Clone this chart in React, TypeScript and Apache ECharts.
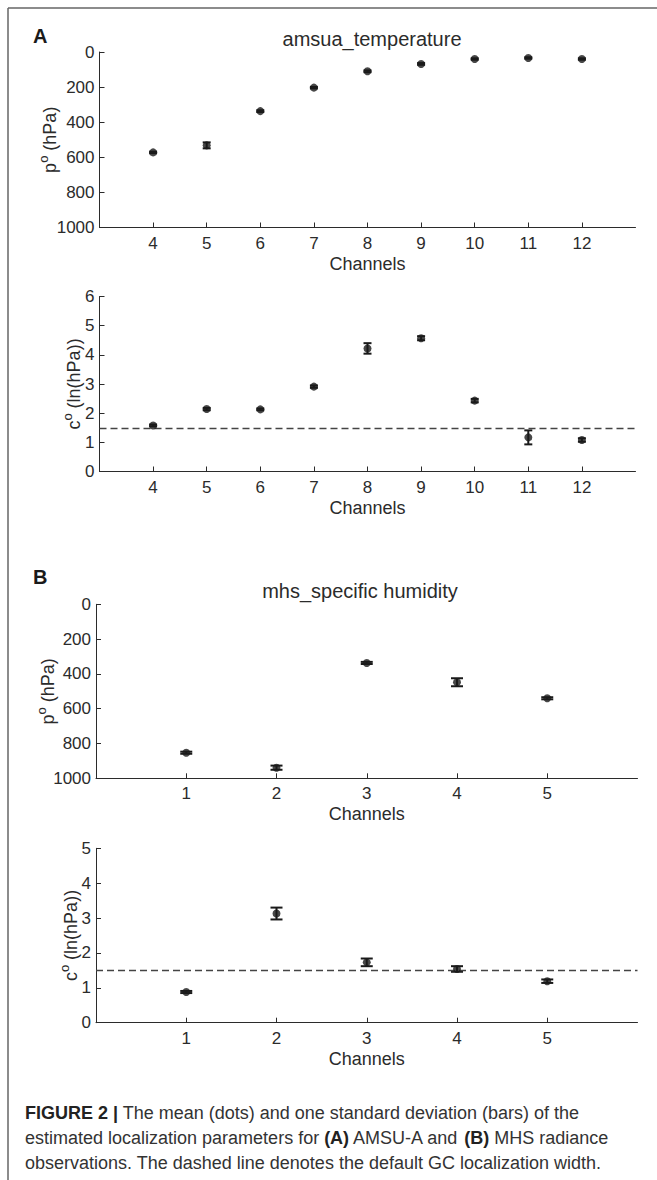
import React, { useEffect, useRef } from "react";
import * as echarts from "echarts";

// ---- Data ----
const channelsA = [4, 5, 6, 7, 8, 9, 10, 11, 12];
const pA = [572, 532, 337, 203, 110, 68, 40, 34, 40];
const pAErr = [4, 17, 5, 4, 5, 5, 4, 4, 4];
const cA = [1.58, 2.14, 2.13, 2.91, 4.22, 4.57, 2.43, 1.17, 1.08];
const cAErr = [0.03, 0.04, 0.03, 0.04, 0.18, 0.07, 0.06, 0.24, 0.06];

const channelsB = [1, 2, 3, 4, 5];
const pB = [853, 939, 337, 448, 540];
const pBErr = [6, 12, 6, 23, 6];
const cB = [0.88, 3.13, 1.73, 1.54, 1.19];
const cBErr = [0.03, 0.17, 0.11, 0.08, 0.05];

const defaultWidth = 1.5;

const titleA = "amsua_temperature";
const titleB = "mhs_specific humidity";
const xName = "Channels";
const captionLines = [
  "{b|FIGURE 2 |} The mean (dots) and one standard deviation (bars) of the",
  "estimated localization parameters for {b|(A)} AMSU-A and {b|(B)} MHS radiance",
  "observations. The dashed line denotes the default GC localization width.",
];

const FONT = "'Liberation Sans', Arial, Helvetica, sans-serif";
const AX = "#2b2b2b";
const DOT = "#1a1a1a";

function errRender(capHalf: number) {
  return (params: any, api: any) => {
    const x = api.value(0);
    const y = api.value(1);
    const e = api.value(2);
    const lo = api.coord([x, y - e]);
    const hi = api.coord([x, y + e]);
    const st = { stroke: DOT, lineWidth: 2 };
    return {
      type: "group",
      children: [
        { type: "line", shape: { x1: lo[0], y1: lo[1], x2: hi[0], y2: hi[1] }, style: st },
        { type: "line", shape: { x1: lo[0] - capHalf, y1: lo[1], x2: lo[0] + capHalf, y2: lo[1] }, style: st },
        { type: "line", shape: { x1: hi[0] - capHalf, y1: hi[1], x2: hi[0] + capHalf, y2: hi[1] }, style: st },
      ],
    };
  };
}

export default function App() {
  const ref = useRef<HTMLDivElement>(null);
  useEffect(() => {
    document.body.style.margin = "0";
    const chart = echarts.init(ref.current!, null, { renderer: "svg" });

    const grids = [
      { left: 99.5, top: 52, width: 536, height: 175.5 },
      { left: 99.5, top: 296.5, width: 536, height: 175 },
      { left: 96, top: 604.3, width: 541.5, height: 174 },
      { left: 96, top: 848.3, width: 541.5, height: 174.4 },
    ];

    const axisLine = { show: true, onZero: false, lineStyle: { color: AX, width: 1 } };
    const axisTick = { show: true, inside: true, length: 5, lineStyle: { color: AX, width: 1 } };
    const label = { color: AX, fontSize: 17, fontFamily: FONT };

    const mkX = (gi: number, min: number, max: number, ticks: number[]) => ({
      type: "value",
      gridIndex: gi,
      position: "bottom",
      min,
      max,
      interval: 1,
      name: xName,
      nameLocation: "middle",
      nameGap: 27,
      nameMoveOverlap: false,
      nameTextStyle: { color: AX, fontSize: 18, fontFamily: FONT },
      axisLine,
      axisTick: { ...axisTick, customValues: ticks },
      axisLabel: { ...label, margin: 7, customValues: ticks },
      splitLine: { show: false },
    });

    const supName = (base: string, rest: string) => `{n|${base}}{s|o}{n| ${rest}}`;
    const nameRich = {
      n: { fontSize: 18, fontFamily: FONT, color: AX, verticalAlign: "bottom", lineHeight: 22 },
      s: { fontSize: 13, fontFamily: FONT, color: AX, verticalAlign: "bottom", lineHeight: 13, padding: [0, 0, 9, 0] },
    };

    const mkY = (gi: number, min: number, max: number, interval: number, inverse: boolean, name: string, gap: number) => ({
      type: "value",
      gridIndex: gi,
      position: "left",
      min,
      max,
      interval,
      inverse,
      name,
      nameLocation: "middle",
      nameRotate: 90,
      nameGap: gap,
      nameMoveOverlap: false,
      nameTextStyle: { rich: nameRich, color: AX, fontSize: 18, fontFamily: FONT },
      axisLine,
      axisTick,
      axisLabel: { ...label, margin: 5, formatter: (v: number) => String(v) },
      splitLine: { show: false },
    });

    const scatter = (gi: number, xs: number[], ys: number[]) => ({
      type: "scatter",
      xAxisIndex: gi,
      yAxisIndex: gi,
      symbol: "circle",
      symbolSize: 8,
      itemStyle: { color: DOT },
      z: 5,
      data: xs.map((x, i) => [x, ys[i]]),
    });

    const errs = (gi: number, xs: number[], ys: number[], es: number[], cap: number) => ({
      type: "custom",
      xAxisIndex: gi,
      yAxisIndex: gi,
      clip: false,
      z: 4,
      renderItem: errRender(cap),
      encode: { x: 0, y: 1 },
      data: xs.map((x, i) => [x, ys[i], es[i]]),
    });

    const dashed = (gi: number) => ({
      type: "line",
      xAxisIndex: gi,
      yAxisIndex: gi,
      data: [],
      markLine: {
        silent: true,
        symbol: "none",
        label: { show: false },
        lineStyle: { color: "#444", width: 1.3, type: [7, 4] },
        data: [{ yAxis: defaultWidth }],
      },
    });

    const option: any = {
      animation: false,
      backgroundColor: "#ffffff",
      grid: grids,
      xAxis: [
        mkX(0, 3, 13, channelsA),
        mkX(1, 3, 13, channelsA),
        mkX(2, 0, 6, channelsB),
        mkX(3, 0, 6, channelsB),
      ],
      yAxis: [
        mkY(0, 0, 1000, 200, true, supName("p", "(hPa)"), 41),
        mkY(1, 0, 6, 1, false, supName("c", "(ln(hPa))"), 17),
        mkY(2, 0, 1000, 200, true, supName("p", "(hPa)"), 39),
        mkY(3, 0, 5, 1, false, supName("c", "(ln(hPa))"), 16),
      ],
      series: [
        errs(0, channelsA, pA, pAErr, 4),
        scatter(0, channelsA, pA),
        errs(1, channelsA, cA, cAErr, 4),
        scatter(1, channelsA, cA),
        dashed(1),
        errs(2, channelsB, pB, pBErr, 6),
        scatter(2, channelsB, pB),
        errs(3, channelsB, cB, cBErr, 6),
        scatter(3, channelsB, cB),
        dashed(3),
      ],
      graphic: [
        { type: "line", shape: { x1: 8, y1: 8, x2: 660, y2: 8 }, style: { stroke: "#666", lineWidth: 1.5 } },
        { type: "line", shape: { x1: 8, y1: 8, x2: 8, y2: 1185 }, style: { stroke: "#666", lineWidth: 1.5 } },
        {
          type: "text", x: 33, y: 36,
          style: { text: "A", font: `bold 20px ${FONT}`, fill: "#1a1a1a", align: "left", verticalAlign: "middle" },
        },
        {
          type: "text", x: 33, y: 577,
          style: { text: "B", font: `bold 20px ${FONT}`, fill: "#1a1a1a", align: "left", verticalAlign: "middle" },
        },
        {
          type: "text", x: 372, y: 39,
          style: { text: titleA, font: `20px ${FONT}`, fill: AX, align: "center", verticalAlign: "middle" },
        },
        {
          type: "text", x: 360, y: 591,
          style: { text: titleB, font: `20px ${FONT}`, fill: AX, align: "center", verticalAlign: "middle" },
        },
        ...captionLines.map((t, i) => ({
          type: "text",
          x: 25,
          y: 1113 + i * 25,
          style: {
            text: t,
            font: `18px ${FONT}`,
            fill: "#333",
            align: "left",
            verticalAlign: "middle",
            rich: {
              b: { fontWeight: "bold", fontSize: 18, fontFamily: FONT, fill: "#222" },
            },
          },
        })),
      ],
    };

    chart.setOption(option);
    return () => chart.dispose();
  }, []);

  return <div ref={ref} style={{ width: 657, height: 1180 }} />;
}
